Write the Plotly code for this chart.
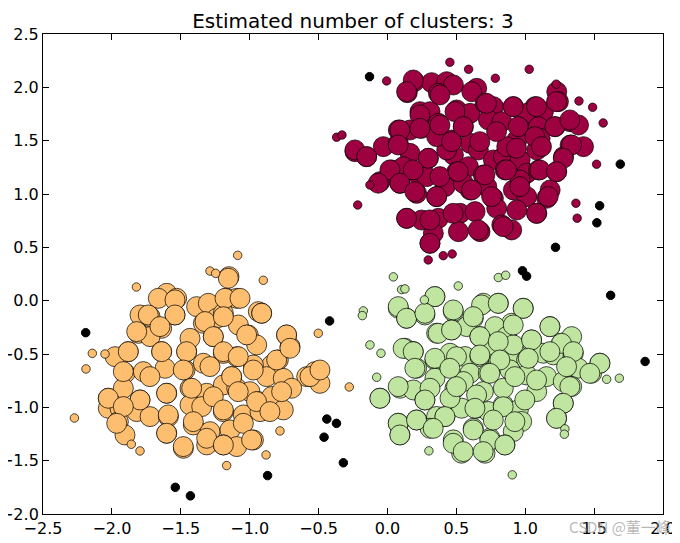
import plotly.graph_objects as go

# cluster 0 (red) - core and border samples
red_core_x = [0.195, 0.321, 0.430, 0.479, 0.144, 0.370, 0.648, 0.612, 1.229, 1.241,
              0.236, 0.309, 0.503, 0.600, 0.709, 0.769, 0.914, 1.072, 1.011, 1.132,
              0.079, 0.164, 0.248, 0.370, 0.551, 0.733, 0.830, 0.963, 1.096, 1.217,
              1.326, 1.387, -0.236, -0.151, -0.030, 0.079, 0.164, 0.297, 0.466, 0.479,
              0.600, 0.660, 0.769, 0.842, 0.939, 0.963, 1.084, 1.108, 1.326, 1.423,
              -0.054, 0.031, 0.091, 0.212, 0.285, 0.503, 0.588, 0.696, 0.854, 1.011,
              1.096, 1.229, 1.278, 0.212, 0.357, 0.418, 0.600, 0.769, 0.914, 1.011,
              1.156, 1.181, 0.140, 0.248, 0.370, 0.527, 0.636, 0.793, 0.939, 1.084,
              0.515, 0.672, 0.830, 0.902, 0.309, 0.333, 0.430, 0.551, 0.721, 0.866,
              0.357, 0.115, 0.963,
              0.187, 0.381, 0.139, 0.719, 0.913, 1.082, 1.227, 0.490, 0.236, 0.090,
              0.236, 0.381, 0.550, 0.792, 0.949, 1.070, 1.215, 1.324, 1.336, -0.236,
              -0.151, 0.078, 0.296, 0.465, 0.671, 0.937, 1.118, 1.276, 0.018, 0.187,
              0.381, 0.514, 0.707, 0.864, 1.106, 1.227, -0.067, 0.090, 0.199, 0.357,
              0.611, 0.756, 0.961, 1.167, 0.139, 0.308, 0.477, 0.659, 0.840, 1.082,
              0.308]
red_core_y = [2.053, 2.044, 2.053, 2.022, 1.950, 1.944, 1.991, 1.959, 1.959, 1.866,
              1.772, 1.772, 1.788, 1.756, 1.850, 1.819, 1.819, 1.819, 1.756, 1.772,
              1.600, 1.600, 1.616, 1.663, 1.631, 1.694, 1.678, 1.616, 1.631, 1.631,
              1.678, 1.647, 1.397, 1.350, 1.444, 1.475, 1.381, 1.334, 1.506, 1.366,
              1.475, 1.413, 1.319, 1.350, 1.506, 1.319, 1.413, 1.522, 1.459, 1.444,
              1.116, 1.225, 1.100, 1.194, 1.163, 1.209, 1.256, 1.178, 1.225, 1.194,
              1.225, 1.209, 1.350, 1.006, 0.975, 1.069, 1.038, 0.960, 1.038, 0.975,
              0.960, 1.038, 0.772, 0.756, 0.772, 0.819, 0.835, 0.866, 0.850, 0.819,
              0.647, 0.647, 0.710, 0.663, 0.538, 0.632, 1.413, 1.100, 1.069, 1.444,
              1.538, 1.256, 1.131,
              2.069, 1.929, 1.960, 1.850, 1.819, 1.819, 1.866, 1.772, 1.741, 1.600,
              1.616, 1.647, 1.632, 1.585, 1.632, 1.538, 1.632, 1.694, 1.460, 1.413,
              1.350, 1.460, 1.335, 1.491, 1.491, 1.429, 1.444, 1.335, 1.226, 1.226,
              1.163, 1.210, 1.179, 1.226, 1.226, 1.210, 1.101, 1.101, 1.022, 0.976,
              1.038, 0.976, 1.069, 0.976, 0.772, 0.757, 0.819, 0.663, 0.694, 0.819,
              0.538]
red_edge_x = [0.453, 0.589, 1.029, 0.783, -0.006, 1.225, 1.390, 1.489, 1.566, -0.369,
              -0.330, 1.518, -0.127, -0.216, 1.368, 1.377, 0.296, 0.405, 0.470]
red_edge_y = [2.235, 2.169, 2.169, 2.085, 2.060, 2.030, 1.872, 1.813, 1.666, 1.532,
              1.553, 1.279, 1.085, 0.897, 0.913, 0.773, 0.382, 0.422, 0.438]

# cluster 1 (orange)
orange_core_x = [-1.150, -1.602, -1.530, -1.385, -1.300, -1.167, -1.094, -0.937, -0.913, -1.796,
                 -1.723, -1.542, -1.639, -1.808, -1.723, -1.336, -1.239, -1.191, -1.082, -1.010,
                 -0.732, -0.707, -1.881, -1.977, -1.639, -1.457, -1.264, -1.191, -1.094, -0.949,
                 -0.792, -0.840, -1.905, -1.772, -1.614, -1.469, -1.336, -1.131, -0.973, -0.877,
                 -0.756, -0.586, -0.526, -0.490, -2.026, -1.917, -1.796, -1.602, -1.433, -1.312,
                 -1.191, -1.094, -0.998, -0.937, -0.840, -0.756, -0.695, -2.026, -1.941, -1.820,
                 -1.723, -1.590, -1.433, -1.348, -1.191, -1.046, -0.925, -1.953, -1.905, -1.602,
                 -1.409, -1.288, -1.143, -0.973, -1.481, -1.312, -1.191, -1.094,
                 -1.155, -1.179, -1.070, -0.913, -1.663, -1.542, -1.736, -1.542, -1.324, -1.191,
                 -1.820, -1.651, -1.433, -1.264, -1.022, -0.732, -1.881, -1.639, -1.458, -1.191,
                 -1.083, -0.804, -0.708, -1.917, -1.724, -1.482, -1.288, -1.131, -0.974, -0.562,
                 -0.490, -2.026, -1.796, -1.603, -1.421, -1.264, -1.083, -0.950, -0.768, -1.917,
                 -1.591, -1.409, -1.191, -1.046, -0.853, -1.965, -1.603, -1.482, -1.312, -1.191,
                 -0.986]
orange_core_y = [0.225, 0.069, 0.022, -0.056, -0.025, 0.022, 0.022, -0.103, -0.118, -0.134,
                 -0.150, -0.134, -0.259, -0.306, -0.337, -0.212, -0.165, -0.118, -0.228, -0.322,
                 -0.322, -0.431, -0.478, -0.525, -0.478, -0.478, -0.337, -0.494, -0.525, -0.415,
                 -0.556, -0.603, -0.681, -0.665, -0.634, -0.650, -0.587, -0.712, -0.603, -0.712,
                 -0.728, -0.712, -0.665, -0.775, -0.915, -0.821, -0.931, -0.868, -0.821, -0.868,
                 -0.790, -0.821, -0.853, -0.946, -0.899, -1.024, -0.821, -1.009, -1.009, -1.040,
                 -1.087, -1.087, -0.977, -0.993, -1.040, -1.071, -1.040, -1.134, -1.259, -1.243,
                 -1.165, -1.228, -1.212, -1.306, -1.384, -1.352, -1.352, -1.368,
                 0.210, 0.022, 0.022, -0.118, 0.022, 0.007, -0.134, -0.134, -0.196, -0.150,
                 -0.290, -0.243, -0.353, -0.337, -0.321, -0.321, -0.478, -0.478, -0.478, -0.478,
                 -0.525, -0.556, -0.446, -0.665, -0.712, -0.650, -0.618, -0.712, -0.650, -0.712,
                 -0.650, -0.915, -0.931, -0.868, -0.821, -0.900, -0.853, -0.946, -0.853, -0.993,
                 -1.071, -1.134, -1.024, -1.150, -1.040, -1.150, -1.243, -1.368, -1.290, -1.353,
                 -1.306]
orange_edge_x = [-1.087, -1.288, -1.247, -0.901, -1.822, -2.142, -2.050, -2.188, -2.272, -0.502,
                 -0.277, -0.780, -0.881, -1.167, -1.859, -1.796]
orange_edge_y = [0.425, 0.278, 0.256, 0.191, 0.128, -0.494, -0.500, -0.640, -1.100, -0.306,
                 -0.809, -1.221, -1.446, -1.546, -1.346, -1.409]

# cluster 2 (green)
green_core_x = [0.079, 0.139, 0.272, 0.345, 0.478, 0.623, 0.696, 0.805, 0.901, 0.986,
                0.357, 0.466, 0.575, 0.671, 0.780, 0.865, 0.127, 0.188, 1.046, 1.180,
                1.264, 1.337, 1.349, 0.212, 0.345, 0.454, 0.563, 0.671, 0.805, 0.938,
                1.010, 1.131, 1.204, 1.542, 1.482, 1.385, -0.054, 0.091, 0.188, 0.272,
                0.345, 0.490, 0.599, 0.732, 0.889, 1.010, 1.155, 1.276, 1.337, 1.083,
                1.276, 1.228, 0.079, 0.212, 0.357, 0.418, 0.538, 0.647, 0.732, 0.841,
                0.950, 0.974, 0.913, 0.091, 0.309, 0.478, 0.623, 0.744, 0.853, 0.538,
                0.708, 0.551, 0.696, 0.841, 0.744, 0.913, 0.309, 0.454,
                0.344, 0.078, 0.139, 0.272, 0.477, 0.683, 0.804, 0.985, 0.622, 0.368,
                0.465, 0.671, 0.804, 0.913, 1.046, 1.179, 1.263, 1.348, 1.542, 1.469,
                0.114, 0.187, 0.344, 0.501, 0.671, 0.816, 1.022, 1.179, 1.300, 0.199,
                0.453, 0.743, 0.925, 1.082, 1.324, -0.055, 0.078, 0.272, 0.501, 0.647,
                0.840, 0.997, 1.276, 1.227, 0.078, 0.211, 0.417, 0.635, 0.768, 0.925,
                0.090, 0.332, 0.622, 0.743, 0.477, 0.550, 0.695, 0.852]
green_core_y = [-0.071, -0.165, -0.134, 0.038, -0.102, -0.165, -0.024, -0.024, -0.212, -0.071,
                -0.305, -0.274, -0.243, -0.337, -0.243, -0.337, -0.446, -0.477, -0.368, -0.243,
                -0.399, -0.337, -0.493, -0.633, -0.555, -0.493, -0.524, -0.524, -0.555, -0.508,
                -0.555, -0.493, -0.508, -0.586, -0.680, -0.633, -0.914, -0.821, -0.837, -0.930,
                -0.727, -0.821, -0.680, -0.680, -0.649, -0.696, -0.712, -0.758, -0.805, -0.852,
                -0.961, -1.102, -1.149, -1.118, -1.086, -1.086, -1.008, -1.008, -1.039, -0.977,
                -1.024, -1.133, -1.227, -1.258, -1.196, -1.305, -1.196, -1.289, -1.352, -1.430,
                -1.430, -0.758, -0.852, -0.821, -0.415, -0.415, -0.821, -0.914,
                0.038, -0.056, -0.165, -0.118, -0.087, -0.040, -0.025, -0.072, -0.150, -0.306,
                -0.275, -0.337, -0.384, -0.228, -0.368, -0.244, -0.400, -0.478, -0.587, -0.681,
                -0.447, -0.478, -0.540, -0.525, -0.509, -0.556, -0.540, -0.478, -0.619, -0.634,
                -0.634, -0.681, -0.712, -0.744, -0.806, -0.915, -0.806, -0.931, -0.806, -0.884,
                -0.994, -0.931, -0.962, -1.103, -1.150, -1.119, -1.087, -1.009, -1.119, -1.134,
                -1.259, -1.197, -1.212, -1.306, -1.337, -1.415, -1.415, -1.353]
green_edge_x = [0.043, 0.103, 0.127, 0.514, 0.805, 0.858, 0.268, -0.175, -0.182, -0.127,
                -0.047, -0.078, 1.591, 1.683, 1.288, 1.284, 0.301, 0.906]
green_edge_y = [0.223, 0.104, 0.110, 0.138, 0.217, 0.238, 0.007, -0.096, -0.140, -0.415,
                -0.493, -0.718, -0.737, -0.727, -1.202, -1.252, -1.408, -1.633]

# noise
noise_x = [-0.13, 1.69, 1.54, 1.52, 1.22, 0.98, 1.01, 1.62, 1.87, -2.19,
           -0.42, -0.44, -0.37, -0.46, -0.32, -0.87, -1.54, -1.43]
noise_y = [2.10, 1.28, 0.89, 0.73, 0.50, 0.28, 0.23, 0.05, -0.57, -0.30,
           -0.19, -1.11, -1.15, -1.28, -1.52, -1.64, -1.75, -1.83]

clusters = [
    (red_core_x, red_core_y, red_edge_x, red_edge_y, '#9e0142'),
    (orange_core_x, orange_core_y, orange_edge_x, orange_edge_y, '#fdbf6f'),
    (green_core_x, green_core_y, green_edge_x, green_edge_y, '#bfe5a0'),
]

fig = go.Figure()
for cx, cy, ex, ey, col in clusters:
    fig.add_trace(go.Scatter(x=cx, y=cy, mode='markers',
                             marker=dict(size=20, color=col, line=dict(color='rgba(0,0,0,0.7)', width=1))))
    fig.add_trace(go.Scatter(x=ex, y=ey, mode='markers',
                             marker=dict(size=8.5, color=col, line=dict(color='rgba(0,0,0,0.7)', width=1))))
fig.add_trace(go.Scatter(x=noise_x, y=noise_y, mode='markers',
                         marker=dict(size=8.5, color='black', line=dict(color='black', width=1))))

axis_style = dict(showgrid=False, zeroline=False, showline=True, linecolor='black', linewidth=1,
                  mirror='ticks', ticks='inside', ticklen=6, tickcolor='black', dtick=0.5,
                  automargin=False, tickformat='.1f',
                  tickfont=dict(family='DejaVu Sans', size=16, color='black'))
# page body keeps its default 8px margin, so everything is shifted by 8px
fig.update_layout(
    width=672, height=535,
    margin=dict(l=35, r=17, t=26, b=29),
    paper_bgcolor='white', plot_bgcolor='white',
    showlegend=False,
    title=dict(text='Estimated number of clusters: 3', xref='paper', x=0.5, xanchor='center',
               yref='container', y=0.963, yanchor='bottom',
               font=dict(family='DejaVu Sans', size=20, color='black')),
    xaxis=dict(range=[-2.5, 2.0], **axis_style),
    yaxis=dict(range=[-2.0, 2.5], **axis_style),
)
fig.add_annotation(text='CSDN @董一峰', xref='paper', yref='paper', x=1.016, y=-0.027,
                   xanchor='right', yanchor='middle', showarrow=False,
                   font=dict(family='Noto Sans CJK SC', size=15, color='rgba(160,160,160,0.75)'))
fig.write_html('out.html')
